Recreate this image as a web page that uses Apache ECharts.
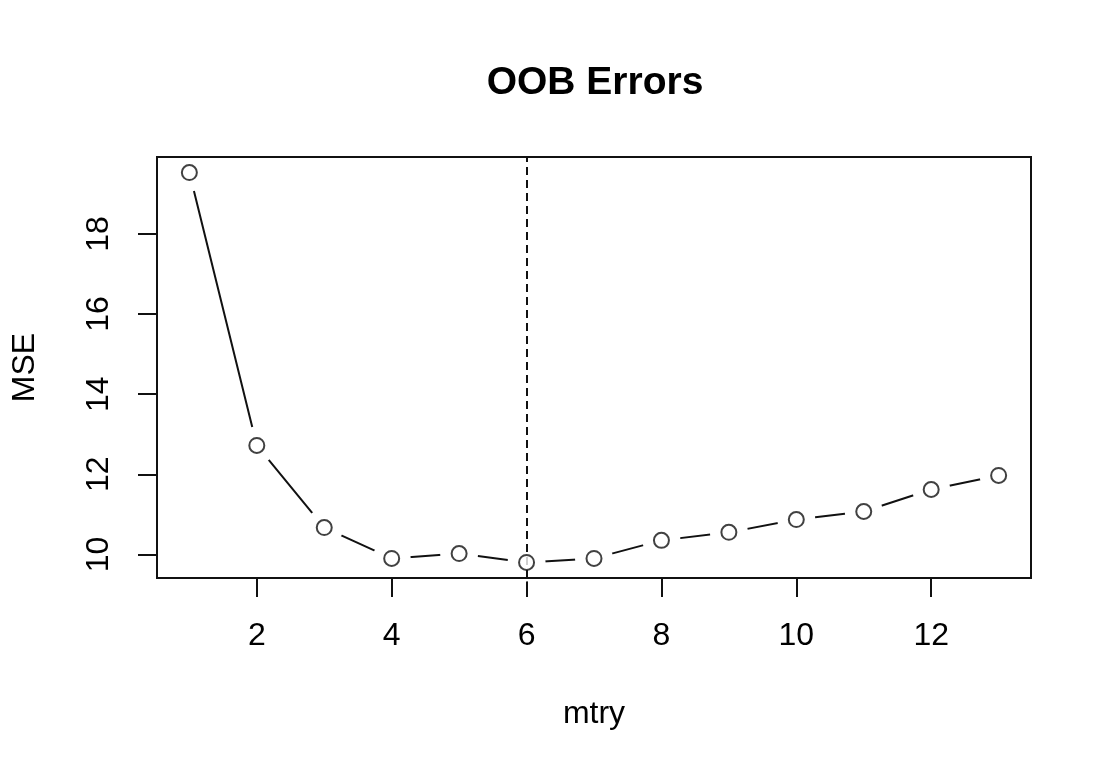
<!DOCTYPE html>
<html>
<head>
<meta charset="utf-8">
<script src="https://cdn.jsdelivr.net/npm/echarts@6/dist/echarts.min.js"></script>
<style>html,body{margin:0;padding:0;background:#fff}#c{width:1112px;height:774px}</style>
</head>
<body>
<div id="c"></div>
<script>
const mtry = [1,2,3,4,5,6,7,8,9,10,11,12,13];
const mse = [19.53,12.72,10.67,9.90,10.02,9.80,9.90,10.35,10.55,10.87,11.07,11.62,11.97];
const xTicks = [2,4,6,8,10,12];
const yTicks = [10,12,14,16,18];
const bestMtry = 6;

const pts = mtry.map((m,i)=>[m, mse[i]]);
const xr = [Math.min(...mtry), Math.max(...mtry)];
const yr = [Math.min(...mse), Math.max(...mse)];
const xpad = (xr[1]-xr[0])*0.04, ypad = (yr[1]-yr[0])*0.04;
const ink = '#111';
const font = 'Liberation Sans, Arial, sans-serif';

const chart = echarts.init(document.getElementById('c'), null, {renderer:'canvas'});
chart.setOption({
  backgroundColor:'#fff',
  animation:false,
  title:{text:'OOB Errors', left:590, top:59, textAlign:'center',
    textStyle:{fontFamily:font, fontWeight:'bold', fontSize:39, color:'#000'}},
  grid:{left:157, right:81, top:157, bottom:196, show:true, z:10,
    backgroundColor:'transparent', borderColor:ink, borderWidth:2},
  xAxis:{type:'value', min:xr[0]-xpad, max:xr[1]+xpad,
    name:'mtry', nameLocation:'middle', nameGap:120,
    nameTextStyle:{fontFamily:font, fontSize:32, color:'#000'},
    axisLine:{show:false}, splitLine:{show:false},
    axisTick:{show:true, length:19, customValues:xTicks, lineStyle:{color:ink, width:2}},
    axisLabel:{customValues:xTicks, margin:42, fontFamily:font, fontSize:32, color:'#000'}},
  yAxis:{type:'value', min:yr[0]-ypad, max:yr[1]+ypad,
    name:'MSE', nameLocation:'middle', nameGap:116, nameRotate:90,
    nameTextStyle:{fontFamily:font, fontSize:32, color:'#000'},
    axisLine:{show:false}, splitLine:{show:false},
    axisTick:{show:true, length:19, customValues:yTicks, lineStyle:{color:ink, width:2}},
    axisLabel:{customValues:yTicks, rotate:90, margin:42, fontFamily:font, fontSize:32, color:'#000'}},
  series:[
    {type:'line', data:pts, z:2, symbol:'none', lineStyle:{color:ink, width:2}, silent:true},
    {type:'scatter', data:pts, z:3, symbol:'circle', symbolSize:38,
      itemStyle:{color:'#fff', opacity:1}, silent:true},
    {type:'scatter', data:pts, z:5, symbol:'circle', symbolSize:15,
      itemStyle:{color:'#fff', borderColor:ink, borderWidth:2}, silent:true,
      markLine:{silent:true, symbol:'none', label:{show:false},
        lineStyle:{color:ink, width:2, type:[8,5]},
        data:[{xAxis:bestMtry}]}}
  ]
});
</script>
</body>
</html>
